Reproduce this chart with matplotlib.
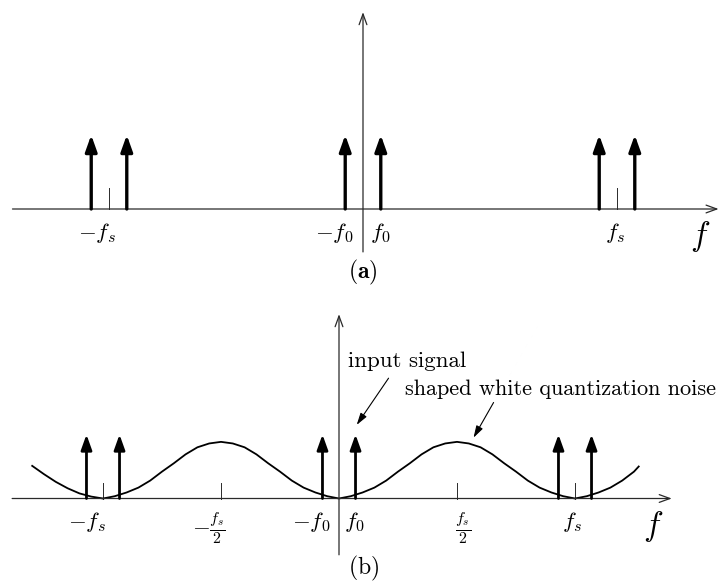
import matplotlib
matplotlib.use("Agg")
import matplotlib.pyplot as plt

plt.rcParams["mathtext.fontset"] = "cm"

# Spectrum parameters (normalised so that fs = 1)
fs = 1.0
f0 = 0.07
tone_freqs = [-fs - f0, -fs + f0, -f0, f0, fs - f0, fs + f0]
tone_amp = [1.0, 1.0, 1.0, 1.0, 1.0, 1.0]

# Tick positions and labels for each panel
ticks_a = [-fs, fs]
labels_a_pos = [-1.047, -0.114, 0.067, 0.992]
labels_a = [r"$-f_s$", r"$-f_0$", r"$f_0$", r"$f_s$"]

ticks_b = [-fs, -fs / 2, fs / 2, fs]
labels_b_pos = [-1.068, -0.551, -0.119, 0.064, 0.525, 0.987]
labels_b = [r"$-f_s$", r"$-\frac{f_s}{2}$", r"$-f_0$", r"$f_0$",
            r"$\frac{f_s}{2}$", r"$f_s$"]

# Shaped quantisation noise spectrum
noise_f = [-1.30, -1.25, -1.20, -1.15, -1.10, -1.05, -1.00,
           -0.95, -0.90, -0.85, -0.80, -0.75, -0.70, -0.65, -0.60, -0.55,
           -0.50, -0.45, -0.40, -0.35, -0.30, -0.25, -0.20, -0.15, -0.10,
           -0.05, 0.00, 0.05, 0.10, 0.15, 0.20, 0.25, 0.30, 0.35, 0.40,
           0.45, 0.50, 0.55, 0.60, 0.65, 0.70, 0.75, 0.80, 0.85, 0.90,
           0.95, 1.00, 1.05, 1.10, 1.15, 1.20, 1.25, 1.27]
noise_level = [0.51, 0.38, 0.26, 0.16, 0.08, 0.03, 0.00,
               0.036, 0.094, 0.17, 0.28, 0.42, 0.55, 0.69, 0.80, 0.86,
               0.885, 0.86, 0.80, 0.69, 0.55, 0.42, 0.28, 0.17, 0.094,
               0.036, 0.00, 0.036, 0.094, 0.17, 0.28, 0.42, 0.55, 0.69, 0.80,
               0.86, 0.885, 0.86, 0.80, 0.69, 0.55, 0.42, 0.28, 0.17, 0.094,
               0.036, 0.00, 0.036, 0.094, 0.17, 0.28, 0.42, 0.50]

W, H = 723, 586
fig = plt.figure(figsize=(W / 100, H / 100), dpi=100)

ax_a = fig.add_axes([0, 1 - 300 / H, 1, 300 / H])
ax_a.set_xlim(-363 / 254, (W - 363) / 254)
ax_a.set_ylim((209 - 300) / 74, 209 / 74)

ax_b = fig.add_axes([0, 0, 1, 286 / H])
ax_b.set_xlim(-339 / 236, (W - 339) / 236)
ax_b.set_ylim((498.5 - 586) / 64, (498.5 - 300) / 64)

for ax in (ax_a, ax_b):
    ax.set_axis_off()

axis_col = "#2a2a2a"
label_fs = 16.5


def draw_axes(ax, xl, xr, yb, yt, x0):
    style = "->,head_length=0.55,head_width=0.2"
    ax.annotate("", xy=(xr, 0), xytext=(xl, 0),
                arrowprops=dict(arrowstyle=style, lw=0.9, color=axis_col,
                                shrinkA=0, shrinkB=0, mutation_scale=14),
                annotation_clip=False)
    ax.annotate("", xy=(x0, yt), xytext=(x0, yb),
                arrowprops=dict(arrowstyle=style, lw=0.9, color=axis_col,
                                shrinkA=0, shrinkB=0, mutation_scale=14),
                annotation_clip=False)


def draw_tones(ax, lw, scale):
    for f, a in zip(tone_freqs, tone_amp):
        ax.annotate("", xy=(f, a), xytext=(f, 0),
                    arrowprops=dict(arrowstyle="-|>,head_length=0.7,head_width=0.25",
                                    lw=lw, color="black", shrinkA=0, shrinkB=0,
                                    mutation_scale=scale),
                    annotation_clip=False)


# ---- panel (a) ----
draw_axes(ax_a, -1.38, 1.40, -0.58, 2.66, 0.0)
for t in ticks_a:
    ax_a.plot([t, t], [0, 0.29], color=axis_col, lw=0.7)
draw_tones(ax_a, 2.4, 14)
for x, s in zip(labels_a_pos, labels_a):
    ax_a.text(x, -0.16, s, ha="center", va="top", fontsize=label_fs)
ax_a.text(1.327, -0.13, r"$f$", ha="center", va="top", fontsize=24)
ax_a.text(0.0, -0.86, r"$\mathbf{(a)}$", ha="center", va="center",
          fontsize=17)

# ---- panel (b) ----
draw_axes(ax_b, -1.385, 1.41, -0.88, 2.88, 0.0)
for t in ticks_b:
    ax_b.plot([t, t], [0, 0.24], color=axis_col, lw=0.7)
ax_b.plot(noise_f, noise_level, color="black", lw=1.3)
draw_tones(ax_b, 2.0, 13)
for x, s in zip(labels_b_pos, labels_b):
    ax_b.text(x, -0.18, s, ha="center", va="top", fontsize=label_fs)
ax_b.text(1.33, -0.16, r"$f$", ha="center", va="top", fontsize=24)
ax_b.text(0.105, -1.09, r"$\mathrm{(b)}$", ha="center", va="center",
          fontsize=17)

note_kw = dict(arrowstyle="-|>,head_length=0.6,head_width=0.18", lw=0.8,
               color="black", shrinkA=0, shrinkB=0, mutation_scale=12)
ax_b.annotate("", xy=(f0 + 0.005, 1.15), xytext=(0.21, 1.88),
              arrowprops=note_kw, annotation_clip=False)
ax_b.text(0.04, 2.05, "input signal", fontsize=16.5, family="cmr10",
          ha="left", va="baseline")
ax_b.annotate("", xy=(0.57, 0.95), xytext=(0.655, 1.50),
              arrowprops=note_kw, annotation_clip=False)
ax_b.text(0.28, 1.62, "shaped white quantization noise", fontsize=16,
          family="cmr10", ha="left", va="baseline")

fig.savefig("out.png", dpi=100)
